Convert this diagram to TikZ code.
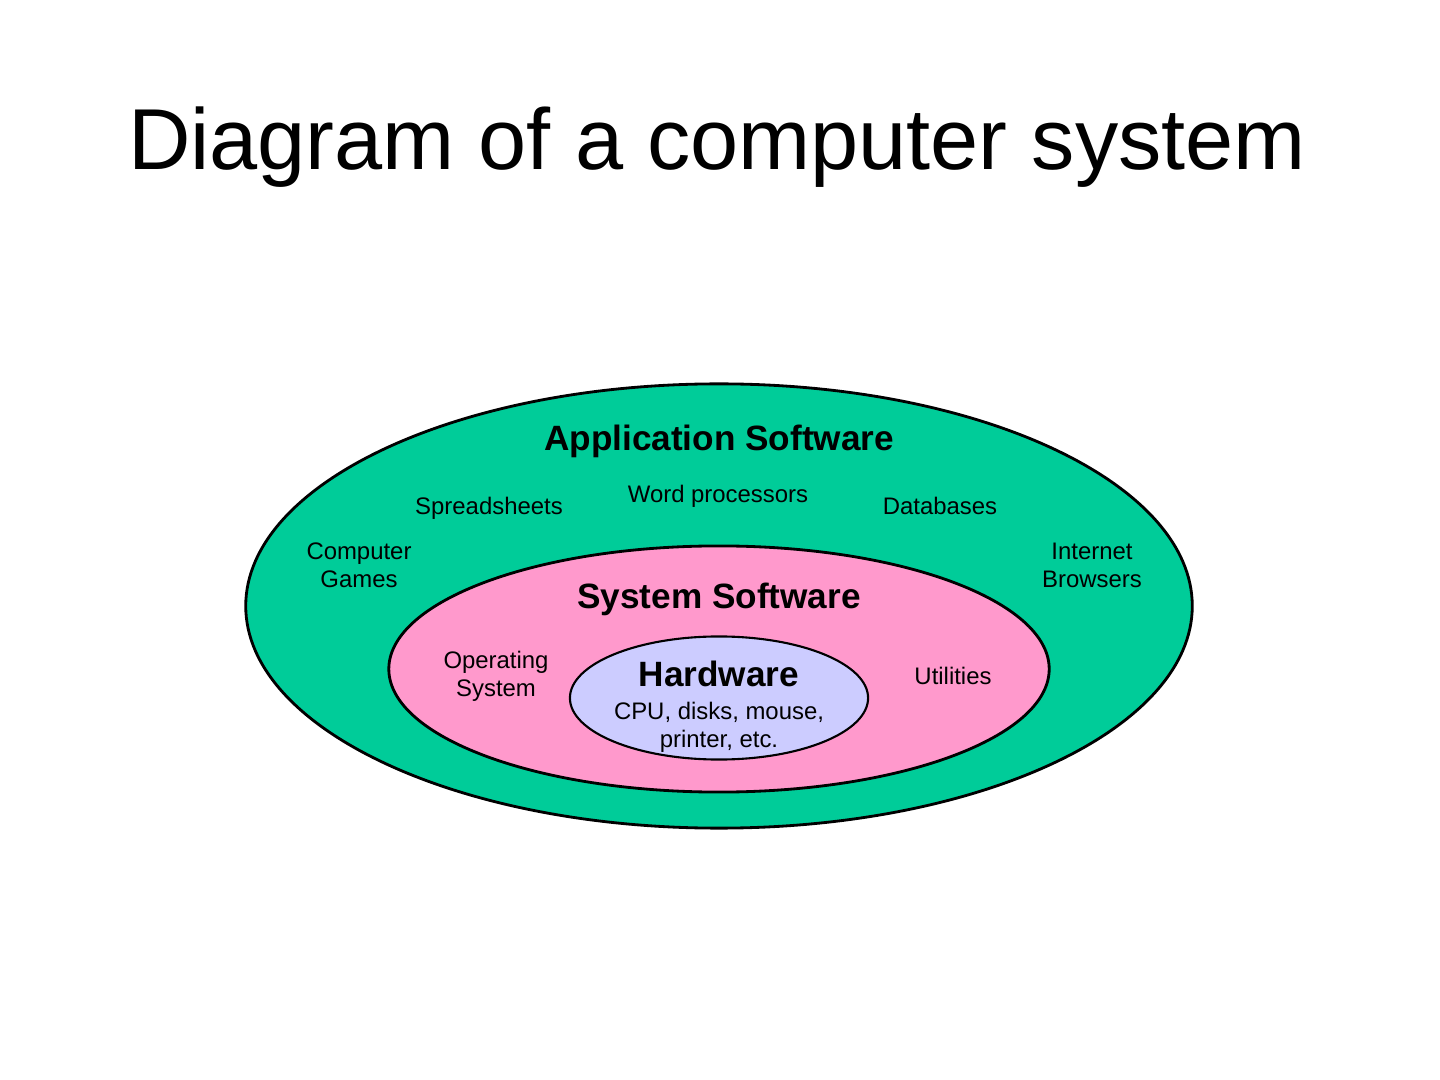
\documentclass[tikz,border=0pt]{standalone}
\usepackage{fontspec}
\setmainfont{Liberation Sans}
\usetikzlibrary{shapes.geometric}
\definecolor{appgreen}{HTML}{00CC99}
\definecolor{syspink}{HTML}{FF99CC}
\definecolor{hwlav}{HTML}{CCCCFF}
\begin{document}
\begin{tikzpicture}[x=0.01cm,y=-0.01cm,
  layer/.style={ellipse,draw=black,line width=0.8pt,inner sep=0pt},
  head/.style={font=\fontsize{10}{12}\selectfont\bfseries,inner sep=0pt,anchor=base},
  item/.style={font=\fontsize{6.8}{8}\selectfont,inner sep=0pt,align=center},
  ttl/.style={font=\fontsize{24.6}{28}\selectfont,inner sep=0pt,anchor=base}]
\fill[white] (0,0) rectangle (1440,1080);
\useasboundingbox (0,0) rectangle (1440,1080);
\node[ttl] (title) at (717,170) {Diagram of a computer system};
\node[layer,fill=appgreen,minimum width=9.46cm,minimum height=4.44cm] (app) at (719,606) {};
\node[layer,fill=syspink,minimum width=6.6cm,minimum height=2.46cm] (sys) at (719,669) {};
\node[layer,fill=hwlav,line width=0.6pt,minimum width=2.98cm,minimum height=1.23cm] (hw) at (719,698) {};
\node[head] (apph) at (719,451) {Application Software};
\node[item,anchor=base] (word) at (718,503) {Word processors};
\node[item,anchor=base] (spread) at (489,515) {Spreadsheets};
\node[item,anchor=base] (db) at (940,515) {Databases};
\node[item] (games) at (359,565) {Computer\\Games};
\node[item] (browse) at (1092,565) {Internet\\Browsers};
\node[head] (sysh) at (719,609) {System Software};
\node[item] (os) at (496,676) {Operating\\System};
\node[item,anchor=base] (util) at (953,685) {Utilities};
\node[head] (hwh) at (719,687) {Hardware};
\node[item] (hwt) at (719,727) {CPU, disks, mouse,\\printer, etc.};
\end{tikzpicture}
\end{document}
